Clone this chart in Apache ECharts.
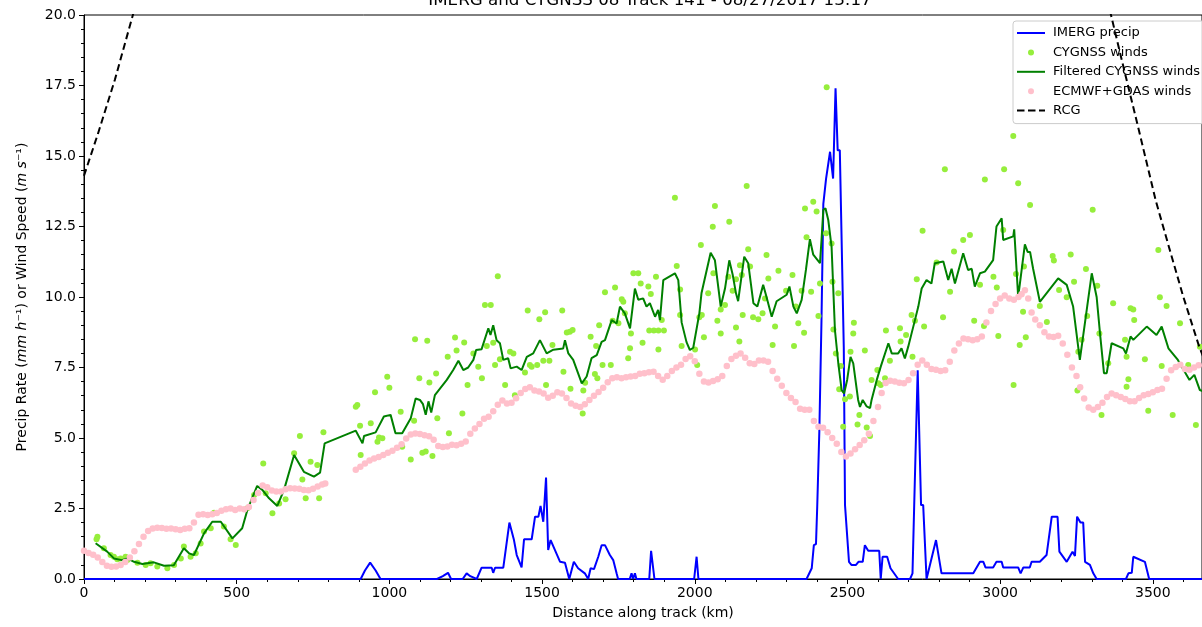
<!DOCTYPE html>
<html><head><meta charset="utf-8">
<script src="https://cdn.jsdelivr.net/npm/echarts@6/dist/echarts.min.js"></script>
<style>html,body{margin:0;padding:0;background:#fff}#c{width:1202px;height:627px}</style>
</head><body><div id="c"></div>
<script>
var titleText = 'IMERG and CYGNSS 08 Track 141 - 08/27/2017 13:17';
var xTicks = [0, 500, 1000, 1500, 2000, 2500, 3000, 3500];
var yTicks = [0, 2.5, 5, 7.5, 10, 12.5, 15, 17.5, 20];

var imerg = [[0,0],[906,0],[920,0.3],[937,0.58],[955,0.3],[971,0],[1156,0],[1175,0.1],[1192,0.22],[1202,0],[1240,0],[1253,0.2],[1265,0.1],[1286,0],[1302,0.4],[1335,0.4],[1340,0.22],[1346,0.4],[1373,0.4],[1393,2.0],[1408,1.38],[1417,0.85],[1433,0.41],[1441,1.41],[1466,1.41],[1477,2.21],[1488,2.21],[1495,2.59],[1504,2.03],[1513,3.6],[1520,1.03],[1528,1.38],[1559,0.61],[1575,0.58],[1589,0],[1604,0.61],[1618,0.38],[1640,0.2],[1651,0],[1659,0.38],[1670,0.35],[1684,0.79],[1695,1.2],[1706,1.2],[1722,0.85],[1733,0.67],[1744,0.2],[1749,0],[1787,0],[1793,0.2],[1798,0],[1804,0.2],[1809,0],[1851,0],[1857,1.0],[1862,1.0],[1868,0],[1998,0],[2006,0.79],[2012,0],[2366,0],[2383,0.38],[2390,1.2],[2397,1.24],[2401,2.56],[2408,5.28],[2415,9.18],[2421,13.3],[2430,14.2],[2443,15.15],[2448,15.2],[2453,14.2],[2461,17.4],[2468,15.2],[2475,15.2],[2488,8.2],[2492,2.62],[2497,2.56],[2505,0.61],[2513,0.5],[2528,0.5],[2536,0.61],[2550,0.61],[2557,1.2],[2568,1.0],[2604,1.0],[2609,0],[2615,0.79],[2630,0.79],[2641,0.38],[2666,0],[2705,0],[2713,0.2],[2719,2.8],[2724,2.8],[2730,7.4],[2741,2.62],[2748,2.62],[2759,0],[2790,1.38],[2808,0.2],[2912,0.2],[2934,0.61],[2945,0.61],[2952,0.41],[2977,0.41],[2988,0.61],[3005,0.61],[3010,0.41],[3059,0.41],[3067,0.2],[3076,0.41],[3097,0.41],[3103,0.61],[3130,0.61],[3152,0.85],[3169,2.21],[3188,2.21],[3194,0.97],[3218,0.61],[3237,0.97],[3245,0.82],[3252,2.21],[3263,2.0],[3272,2.0],[3278,0.61],[3294,0.5],[3305,0.2],[3316,0],[3412,0],[3420,0.2],[3431,0.22],[3436,0.79],[3474,0.61],[3488,0],[3700,0]];

var cygnss = [[41,1.41],[44,1.5],[65,1.09],[87,0.85],[98,0.79],[109,0.7],[120,0.73],[136,0.79],[142,0.67],[175,0.58],[202,0.5],[218,0.56],[240,0.44],[273,0.38],[295,0.5],[317,0.73],[327,1.15],[349,0.79],[366,0.91],[382,1.26],[393,1.68],[415,1.8],[426,2.35],[458,1.86],[480,1.41],[497,1.21],[535,2.51],[557,2.98],[587,4.1],[595,3.04],[617,2.33],[639,2.68],[660,2.83],[688,4.46],[707,5.07],[715,3.53],[726,2.86],[742,4.16],[764,4.04],[770,2.86],[784,5.2],[890,6.11],[895,6.17],[904,5.43],[906,4.4],[939,5.52],[953,6.62],[961,4.87],[966,5.02],[977,4.99],[993,7.17],[1000,6.78],[1037,5.93],[1042,4.69],[1070,4.24],[1081,5.61],[1084,8.5],[1098,7.12],[1108,4.48],[1119,4.52],[1124,8.45],[1131,6.97],[1141,4.36],[1153,7.29],[1157,5.7],[1191,7.88],[1195,5.17],[1215,8.56],[1220,8.1],[1239,5.87],[1245,8.39],[1256,6.88],[1275,8.0],[1291,7.53],[1303,7.12],[1313,9.72],[1319,8.26],[1332,9.72],[1340,8.38],[1346,7.59],[1355,10.74],[1362,7.79],[1379,6.88],[1395,8.06],[1406,8.0],[1411,6.52],[1444,7.32],[1453,9.52],[1460,7.59],[1466,7.53],[1484,7.59],[1491,9.21],[1504,7.74],[1510,9.46],[1513,6.88],[1524,7.74],[1534,8.3],[1566,9.52],[1570,7.35],[1581,8.74],[1591,8.77],[1593,6.75],[1600,8.83],[1633,5.87],[1635,6.68],[1641,6.96],[1659,8.59],[1673,7.27],[1677,8.26],[1681,7.12],[1687,9.0],[1698,7.59],[1706,10.17],[1725,7.59],[1731,9.16],[1739,10.34],[1750,9.07],[1761,9.92],[1766,9.83],[1771,9.42],[1782,7.83],[1788,8.18],[1791,8.71],[1799,10.84],[1815,10.84],[1823,10.48],[1829,8.38],[1848,10.37],[1851,8.81],[1856,10.11],[1866,8.81],[1873,10.72],[1881,8.81],[1881,8.14],[1892,9.18],[1899,8.81],[1935,13.52],[1941,11.1],[1952,9.36],[1952,10.27],[1957,8.26],[2001,8.14],[2008,7.59],[2015,9.28],[2020,11.84],[2023,9.36],[2030,8.57],[2044,10.13],[2059,12.49],[2061,10.84],[2066,13.23],[2074,9.16],[2085,9.56],[2085,8.71],[2099,9.72],[2110,10.72],[2113,12.67],[2124,10.22],[2135,10.63],[2135,8.92],[2146,8.42],[2148,11.13],[2154,10.78],[2157,9.36],[2170,13.94],[2175,11.69],[2181,11.08],[2191,9.28],[2208,9.21],[2222,9.42],[2230,9.95],[2235,11.49],[2241,10.66],[2255,8.3],[2263,8.95],[2274,10.93],[2299,10.22],[2320,10.78],[2325,8.26],[2331,9.66],[2339,9.07],[2350,10.22],[2358,8.73],[2361,13.14],[2366,12.12],[2381,10.19],[2388,13.38],[2399,13.03],[2405,9.33],[2410,10.48],[2430,12.26],[2432,17.44],[2448,11.9],[2451,10.54],[2454,8.85],[2462,8.0],[2470,10.13],[2473,6.73],[2478,7.55],[2486,5.4],[2492,6.37],[2508,6.47],[2510,8.06],[2519,8.71],[2521,9.09],[2533,5.48],[2539,5.82],[2557,8.1],[2563,5.37],[2574,5.07],[2579,7.06],[2598,7.41],[2601,6.94],[2609,6.88],[2623,7.12],[2626,8.81],[2639,7.74],[2672,8.89],[2674,8.42],[2692,8.65],[2710,9.36],[2713,7.88],[2721,9.16],[2727,10.63],[2746,12.35],[2751,8.95],[2792,11.22],[2813,9.28],[2819,14.53],[2836,10.19],[2849,11.61],[2879,12.02],[2901,12.2],[2915,9.16],[2934,10.43],[2947,8.97],[2950,14.17],[2978,10.72],[2989,10.34],[2994,8.62],[3010,12.38],[3013,14.53],[3043,15.71],[3044,6.88],[3052,10.82],[3059,14.03],[3064,8.3],[3075,9.48],[3078,11.08],[3084,8.57],[3098,13.26],[3130,9.68],[3153,9.11],[3172,11.45],[3176,11.29],[3193,10.25],[3218,9.99],[3231,11.51],[3242,10.54],[3253,6.68],[3256,8.06],[3267,8.48],[3281,10.99],[3285,9.33],[3303,13.09],[3318,10.4],[3325,8.71],[3332,5.82],[3354,7.65],[3370,9.78],[3409,8.48],[3414,7.88],[3414,6.82],[3420,7.08],[3427,9.6],[3436,9.56],[3439,9.18],[3474,7.79],[3485,5.97],[3518,11.67],[3523,9.99],[3529,7.55],[3545,9.68],[3565,5.82],[3589,9.07],[3616,7.59],[3641,5.46],[3654,8.24]];

var filtered = [[38,1.27],[76,0.97],[98,0.73],[124,0.67],[142,0.73],[164,0.61],[191,0.53],[229,0.59],[262,0.47],[294,0.49],[327,1.09],[344,0.91],[360,0.85],[393,1.62],[420,2.03],[448,2.03],[486,1.44],[518,1.8],[535,2.45],[567,3.3],[584,3.16],[606,2.86],[633,2.59],[655,3.16],[688,4.4],[720,3.8],[753,3.63],[773,3.77],[788,4.81],[890,5.26],[912,4.81],[917,5.07],[955,5.2],[966,5.43],[982,5.76],[1004,5.82],[1020,5.17],[1042,5.17],[1070,5.7],[1086,6.4],[1100,6.35],[1110,6.2],[1119,5.82],[1128,6.3],[1137,5.9],[1149,6.52],[1188,7.06],[1209,7.41],[1226,7.74],[1242,7.41],[1258,7.5],[1275,7.77],[1284,8.12],[1302,8.15],[1324,8.89],[1331,8.65],[1340,9.0],[1351,8.47],[1362,8.36],[1373,7.77],[1389,7.83],[1397,7.47],[1417,7.53],[1433,7.41],[1450,7.88],[1471,8.0],[1493,8.47],[1515,8.0],[1537,8.13],[1569,8.17],[1575,8.47],[1586,8.0],[1602,7.77],[1630,6.94],[1646,7.18],[1662,7.83],[1679,7.94],[1695,8.41],[1706,8.47],[1728,9.18],[1744,9.06],[1755,9.66],[1771,9.42],[1788,8.89],[1804,10.3],[1815,9.9],[1831,9.95],[1842,9.66],[1853,9.78],[1870,9.3],[1880,9.54],[1886,9.18],[1897,10.6],[1935,10.84],[1946,10.6],[1957,9.1],[1973,8.4],[1984,8.12],[1995,8.2],[2015,9.42],[2022,10.13],[2052,11.57],[2066,11.3],[2085,9.66],[2099,10.3],[2113,11.3],[2124,10.8],[2135,10.13],[2142,9.85],[2162,11.43],[2175,11.2],[2192,9.78],[2205,9.66],[2224,10.43],[2235,10.0],[2252,9.3],[2268,9.85],[2301,10.08],[2310,10.37],[2323,9.66],[2334,9.42],[2350,9.9],[2364,10.96],[2377,12.05],[2388,11.5],[2410,11.2],[2415,12.0],[2421,13.09],[2428,13.15],[2437,12.74],[2448,11.78],[2459,8.83],[2470,7.65],[2481,6.7],[2489,6.58],[2499,7.06],[2510,7.88],[2519,7.65],[2535,6.35],[2541,6.1],[2550,6.35],[2563,6.12],[2574,6.06],[2579,6.35],[2596,7.06],[2609,7.53],[2634,8.36],[2645,8.0],[2666,8.0],[2677,8.18],[2688,7.82],[2699,8.24],[2710,8.71],[2721,9.18],[2732,9.66],[2743,10.3],[2759,10.6],[2775,10.48],[2786,11.2],[2814,11.26],[2830,10.6],[2841,11.0],[2852,10.48],[2879,11.55],[2895,10.96],[2907,11.0],[2917,10.37],[2934,10.84],[2950,10.9],[2977,11.31],[2988,12.5],[3005,12.79],[3010,12.02],[3043,12.15],[3046,12.4],[3059,10.0],[3065,10.5],[3081,11.87],[3090,11.6],[3098,11.6],[3108,11.0],[3130,9.83],[3190,10.66],[3218,10.43],[3239,9.66],[3261,7.77],[3285,9.66],[3300,10.84],[3316,10.0],[3327,8.71],[3340,7.3],[3349,7.3],[3365,8.36],[3403,8.18],[3412,8.0],[3427,8.6],[3436,8.48],[3480,8.95],[3512,8.65],[3529,8.95],[3551,8.18],[3582,7.77],[3620,7.06],[3636,7.24],[3654,6.7],[3680,6.6]];

var ecmwf = [[0,1.0],[15,0.92],[30,0.86],[45,0.76],[60,0.6],[75,0.47],[90,0.43],[105,0.44],[120,0.5],[135,0.6],[150,0.76],[165,0.98],[180,1.24],[195,1.5],[210,1.7],[225,1.79],[240,1.82],[255,1.81],[270,1.78],[285,1.79],[300,1.76],[315,1.74],[330,1.78],[345,1.8],[360,2.0],[375,2.28],[390,2.3],[405,2.27],[420,2.3],[435,2.34],[450,2.42],[465,2.47],[480,2.5],[495,2.45],[510,2.5],[525,2.47],[540,2.55],[555,2.8],[570,3.05],[585,3.32],[600,3.25],[615,3.14],[630,3.1],[645,3.1],[660,3.18],[675,3.22],[690,3.21],[705,3.2],[720,3.16],[735,3.15],[750,3.2],[765,3.28],[780,3.35],[790,3.39],
[890,3.87],[905,3.98],[920,4.1],[935,4.2],[950,4.27],[965,4.33],[980,4.4],[995,4.48],[1010,4.55],[1025,4.65],[1040,4.78],[1055,4.98],[1070,5.12],[1085,5.16],[1100,5.14],[1115,5.1],[1130,5.06],[1145,4.94],[1160,4.72],[1175,4.68],[1190,4.7],[1205,4.76],[1220,4.74],[1235,4.8],[1250,4.88],[1265,5.15],[1280,5.34],[1295,5.5],[1310,5.68],[1325,5.75],[1340,5.95],[1355,6.18],[1370,6.33],[1385,6.22],[1400,6.25],[1415,6.41],[1430,6.6],[1445,6.74],[1460,6.8],[1475,6.68],[1490,6.65],[1505,6.58],[1520,6.43],[1535,6.5],[1550,6.62],[1565,6.58],[1580,6.42],[1595,6.22],[1610,6.14],[1625,6.1],[1640,6.2],[1655,6.35],[1670,6.5],[1685,6.63],[1700,6.78],[1715,6.98],[1730,7.12],[1745,7.15],[1760,7.12],[1775,7.15],[1790,7.18],[1805,7.2],[1820,7.28],[1835,7.3],[1850,7.33],[1865,7.35],[1880,7.2],[1895,7.07],[1910,7.2],[1925,7.38],[1940,7.5],[1955,7.6],[1970,7.8],[1985,7.9],[2000,7.72],[2015,7.28],[2030,7.0],[2045,6.97],[2060,7.02],[2075,7.08],[2090,7.2],[2105,7.55],[2120,7.8],[2135,7.92],[2150,8.0],[2165,7.85],[2180,7.65],[2195,7.62],[2210,7.75],[2225,7.75],[2240,7.7],[2255,7.38],[2270,7.1],[2285,6.85],[2300,6.6],[2315,6.42],[2330,6.28],[2345,6.04],[2360,6.0],[2375,6.0],[2390,5.6],[2405,5.4],[2420,5.36],[2435,5.2],[2450,5.0],[2465,4.8],[2480,4.5],[2495,4.34],[2510,4.45],[2525,4.6],[2540,4.75],[2555,4.92],[2570,5.15],[2585,5.6],[2600,6.1],[2612,6.6],[2625,6.95],[2640,7.03],[2655,7.0],[2670,6.96],[2685,6.94],[2700,7.06],[2715,7.3],[2730,7.6],[2745,7.75],[2760,7.6],[2775,7.45],[2790,7.42],[2805,7.38],[2820,7.4],[2835,7.7],[2850,8.1],[2865,8.35],[2880,8.53],[2895,8.5],[2910,8.47],[2925,8.5],[2940,8.6],[2955,9.1],[2970,9.5],[2985,9.75],[3000,9.95],[3015,10.05],[3030,9.95],[3045,9.9],[3060,10.0],[3070,10.1],[3081,10.24],[3092,9.95],[3103,9.45],[3115,9.2],[3130,9.0],[3145,8.75],[3160,8.6],[3175,8.58],[3190,8.63],[3205,8.35],[3220,7.95],[3235,7.5],[3250,7.2],[3262,6.8],[3275,6.4],[3290,6.08],[3305,6.0],[3320,6.1],[3335,6.25],[3350,6.45],[3365,6.58],[3380,6.52],[3395,6.45],[3410,6.38],[3425,6.3],[3440,6.3],[3455,6.42],[3470,6.52],[3485,6.56],[3500,6.62],[3515,6.7],[3530,6.75],[3545,7.1],[3560,7.4],[3575,7.52],[3590,7.6],[3605,7.45],[3620,7.42],[3635,7.5],[3650,7.58],[3665,7.45],[3680,7.4]];

var rcgLeft = [[0,14.3],[46,15.8],[101,17.7],[160,20],[200,21.5]];
var rcgRight = [[3330,21.3],[3363,20],[3405,18.1],[3448,16.2],[3510,13.4],[3560,11.5],[3600,10.0],[3650,8.3],[3700,6.9]];

var FONT = 'DejaVu Sans';
var chart = echarts.init(document.getElementById('c'), null, {renderer: 'canvas'});
var dotIcon = 'path://M0,0 M28,14 M11,7 A3,3 0 1,0 17,7 A3,3 0 1,0 11,7 Z';
var lineIcon = 'path://M0,0 M28,14 M0,6 L28,6 L28,8 L0,8 Z';
var dashIcon = 'path://M0,0 M28,14 M0,6 L7.5,6 L7.5,8 L0,8 Z M11,6 L18.5,6 L18.5,8 L11,8 Z M22,6 L28,6 L28,8 L22,8 Z';
chart.setOption({
  animation: false,
  backgroundColor: '#fff',
  title: {
    text: titleText, left: 650, top: -8, textAlign: 'center', padding: 0,
    textStyle: {fontFamily: FONT, fontSize: 16.7, fontWeight: 'normal', color: '#000'}
  },
  grid: {left: 84, top: 15, right: 0, height: 564, show: true, borderColor: '#000', borderWidth: 1, backgroundColor: 'transparent'},
  legend: {
    orient: 'vertical', left: 1013, top: 21, padding: [5, 12, 6, 4], itemGap: 5.4,
    itemWidth: 28, itemHeight: 14,
    backgroundColor: 'rgba(255,255,255,0.8)', borderColor: '#cccccc', borderWidth: 1, borderRadius: 3,
    textStyle: {fontFamily: FONT, fontSize: 13, color: '#000', padding: [0, 0, 0, 3]},
    data: [
      {name: 'IMERG precip', icon: lineIcon},
      {name: 'CYGNSS winds', icon: dotIcon},
      {name: 'Filtered CYGNSS winds', icon: lineIcon},
      {name: 'ECMWF+GDAS winds', icon: dotIcon},
      {name: 'RCG', icon: dashIcon}
    ]
  },
  xAxis: {
    type: 'value', min: 0, max: 3661, interval: 500,
    name: 'Distance along track (km)', nameLocation: 'middle', nameGap: 27,
    nameTextStyle: {fontFamily: FONT, fontSize: 14, color: '#000', padding: [0, 0, 0, 0]},
    axisLine: {show: true, lineStyle: {color: '#000', width: 1}},
    axisTick: {show: true, length: 5, lineStyle: {color: '#000'}},
    minorTick: {show: true, splitNumber: 5, length: 3, lineStyle: {color: '#000'}},
    splitLine: {show: false},
    axisLabel: {fontFamily: FONT, fontSize: 14, color: '#000', margin: 7, showMaxLabel: false,
      formatter: function (v) { return xTicks.indexOf(v) >= 0 ? String(v) : ''; }}
  },
  yAxis: {
    type: 'value', min: 0, max: 20, interval: 2.5,
    name: '{n|Precip Rate (}{i|mm h}{n|⁻¹) or Wind Speed (}{i|m s}{n|⁻¹)}',
    nameLocation: 'middle', nameGap: 55, nameRotate: 90,
    nameTextStyle: {fontFamily: FONT, fontSize: 14, color: '#000',
      rich: {n: {fontFamily: FONT, fontSize: 14, color: '#000'}, i: {fontFamily: FONT, fontSize: 14, fontStyle: 'italic', color: '#000'}}},
    axisLine: {show: true, lineStyle: {color: '#000', width: 1}},
    axisTick: {show: true, length: 5, lineStyle: {color: '#000'}},
    minorTick: {show: true, splitNumber: 5, length: 3, lineStyle: {color: '#000'}},
    splitLine: {show: false},
    axisLabel: {fontFamily: FONT, fontSize: 14, color: '#000', margin: 8,
      formatter: function (v) { return yTicks.indexOf(v) >= 0 ? v.toFixed(1) : ''; }}
  },
  series: [
    {name: 'IMERG precip', type: 'line', data: imerg, symbol: 'none', z: 2,
      lineStyle: {color: '#0000ff', width: 2}, itemStyle: {color: '#0000ff'}},
    {name: 'CYGNSS winds', type: 'scatter', data: cygnss, symbolSize: 6, z: 3,
      itemStyle: {color: '#96ee3c', opacity: 1}},
    {name: 'Filtered CYGNSS winds', type: 'line', data: filtered, symbol: 'none', z: 4,
      lineStyle: {color: '#008000', width: 2}, itemStyle: {color: '#008000'}},
    {name: 'ECMWF+GDAS winds', type: 'scatter', data: ecmwf, symbolSize: 6.5, z: 5,
      itemStyle: {color: '#ffc0cb', opacity: 1}},
    {name: 'RCG', type: 'line', data: rcgLeft, symbol: 'none', clip: true, z: 6,
      lineStyle: {color: '#000', width: 2, type: [7, 4]}, itemStyle: {color: '#000'}},
    {name: 'RCG', type: 'line', data: rcgRight, symbol: 'none', clip: true, z: 6,
      lineStyle: {color: '#000', width: 2, type: [7, 4]}, itemStyle: {color: '#000'}}
  ]
});
</script>
</body></html>
